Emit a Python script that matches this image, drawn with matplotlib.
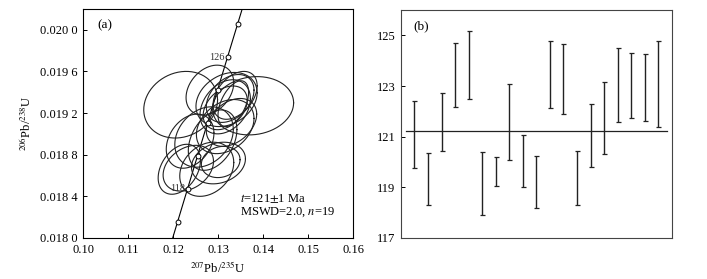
import numpy as np
import matplotlib
matplotlib.use("Agg")
import matplotlib.pyplot as plt

plt.rcParams["font.family"] = ["Liberation Serif", "DejaVu Serif"]
plt.rcParams["mathtext.fontset"] = "stix"

# (a) concordia ellipses: 207Pb/235U, 206Pb/238U, half-widths and correlation
pb207_u235 = [0.1214, 0.1234, 0.1275, 0.1301, 0.1306, 0.1238, 0.1269, 0.1288, 0.1316, 0.1330,
              0.1217, 0.1282, 0.1319, 0.1327, 0.1338, 0.1378, 0.1316, 0.1316, 0.1334]
pb207_err = [0.0047, 0.0056, 0.0060, 0.0060, 0.0043, 0.0053, 0.0065, 0.0054, 0.0064, 0.0056,
             0.0082, 0.0053, 0.0068, 0.0053, 0.0049, 0.0090, 0.0049, 0.0056, 0.0034]
pb206_u238 = [0.01866, 0.01867, 0.01866, 0.01872, 0.01873, 0.01893, 0.01897, 0.01894, 0.01907, 0.01911,
              0.01928, 0.01942, 0.01933, 0.01934, 0.01937, 0.01927, 0.01925, 0.01926, 0.01929]
pb206_err = [0.00024, 0.00022, 0.00026, 0.00020, 0.00015, 0.00026, 0.00029, 0.00029, 0.00026, 0.00023,
             0.00032, 0.00024, 0.00026, 0.00023, 0.00023, 0.00028, 0.00021, 0.00026, 0.00022]
rho = [0.35, 0.3, 0.25, 0.2, 0.15, 0.3, 0.25, 0.35, 0.3, 0.35,
       0.15, 0.3, 0.25, 0.35, 0.4, 0.1, 0.35, 0.3, 0.5]

# concordia age marks (Ma)
conc_ages = [116, 118, 120, 122, 124, 126, 128]
conc_labels = {118: "118", 126: "126"}

# (b) 206Pb/238U ages with error bars
age_hi = [122.42, 120.37, 122.71, 124.71, 125.16, 120.38, 120.19, 123.08, 121.06, 120.24,
          124.79, 124.67, 120.45, 122.31, 123.15, 124.52, 124.31, 124.26, 124.79]
age_lo = [119.75, 118.29, 120.44, 122.16, 122.50, 117.92, 119.07, 120.07, 119.01, 118.19,
          122.14, 121.89, 118.29, 119.81, 120.30, 121.59, 121.75, 121.63, 121.39]
mean_age = 121.22

L238 = 1.55125e-10
L235 = 9.8485e-10

fig = plt.figure(figsize=(7.07, 2.79), dpi=100)
ax1 = fig.add_axes([0.1174, 0.147, 0.3819, 0.821])
ax2 = fig.add_axes([0.567, 0.147, 0.3833, 0.817])

# concordia curve
t = np.linspace(100e6, 140e6, 300)
ax1.plot(np.exp(L235 * t) - 1, np.exp(L238 * t) - 1, color="black", lw=0.8, zorder=1)

th = np.linspace(0, 2 * np.pi, 200)
for cx, sx, cy, sy, r in zip(pb207_u235, pb207_err, pb206_u238, pb206_err, rho):
    ex = cx + sx * np.cos(th)
    ey = cy + sy * (r * np.cos(th) + np.sqrt(1 - r * r) * np.sin(th))
    ax1.plot(ex, ey, color="#222222", lw=0.8, zorder=2)

for a in conc_ages:
    x = np.exp(L235 * a * 1e6) - 1
    y = np.exp(L238 * a * 1e6) - 1
    ax1.plot(x, y, "o", ms=3.5, mfc="white", mec="black", mew=0.7, zorder=3)
    if a in conc_labels:
        ax1.text(x - 0.0006, y, conc_labels[a], ha="right", va="center", fontsize=7.5,
                 color="#333333", zorder=3)

ax1.set_xlim(0.10, 0.16)
ax1.set_ylim(0.0180, 0.0202)
ax1.set_xticks([0.10, 0.11, 0.12, 0.13, 0.14, 0.15, 0.16])
ax1.set_xticklabels(["0.10", "0.11", "0.12", "0.13", "0.14", "0.15", "0.16"])
yt = [0.0180, 0.0184, 0.0188, 0.0192, 0.0196, 0.0200]
ax1.set_yticks(yt)
ax1.set_yticklabels(["0.018 0", "0.018 4", "0.018 8", "0.019 2", "0.019 6", "0.020 0"])
ax1.tick_params(direction="in", length=3, width=0.7, labelsize=9, pad=4)
ax1.set_xlabel(r"$^{207}$Pb/$^{235}$U", fontsize=9, labelpad=3)
ax1.set_ylabel(r"$^{206}$Pb/$^{238}$U", fontsize=9, labelpad=4)
ax1.text(0.052, 0.93, "(a)", transform=ax1.transAxes, fontsize=9.5, ha="left", va="center")
ax1.text(0.58, 0.17, r"$\it{t}$=121$\pm$1 Ma", transform=ax1.transAxes, fontsize=9,
         ha="left", va="center")
ax1.text(0.58, 0.113, r"MSWD=2.0, $\it{n}$=19", transform=ax1.transAxes, fontsize=9,
         ha="left", va="center")
for s in ax1.spines.values():
    s.set_linewidth(0.8)

# (b) error bars
xs = np.arange(1, len(age_hi) + 1)
for x, hi, lo in zip(xs, age_hi, age_lo):
    ax2.errorbar(x, (hi + lo) / 2, yerr=(hi - lo) / 2, fmt="none", ecolor="#222222",
                 elinewidth=1.0, capsize=1.8, capthick=0.9)
ax2.plot([0.35, 19.65], [mean_age, mean_age], color="#222222", lw=0.9)
ax2.set_xlim(0, 20)
ax2.set_ylim(117, 126)
ax2.set_xticks([])
ax2.set_yticks([117, 119, 121, 123, 125])
ax2.tick_params(direction="in", length=3, width=0.7, labelsize=9, pad=4)
ax2.text(0.045, 0.93, "(b)", transform=ax2.transAxes, fontsize=9.5, ha="left", va="center")
for s in ax2.spines.values():
    s.set_linewidth(0.8)
    s.set_color("#444444")

fig.savefig("out.png", dpi=100)
